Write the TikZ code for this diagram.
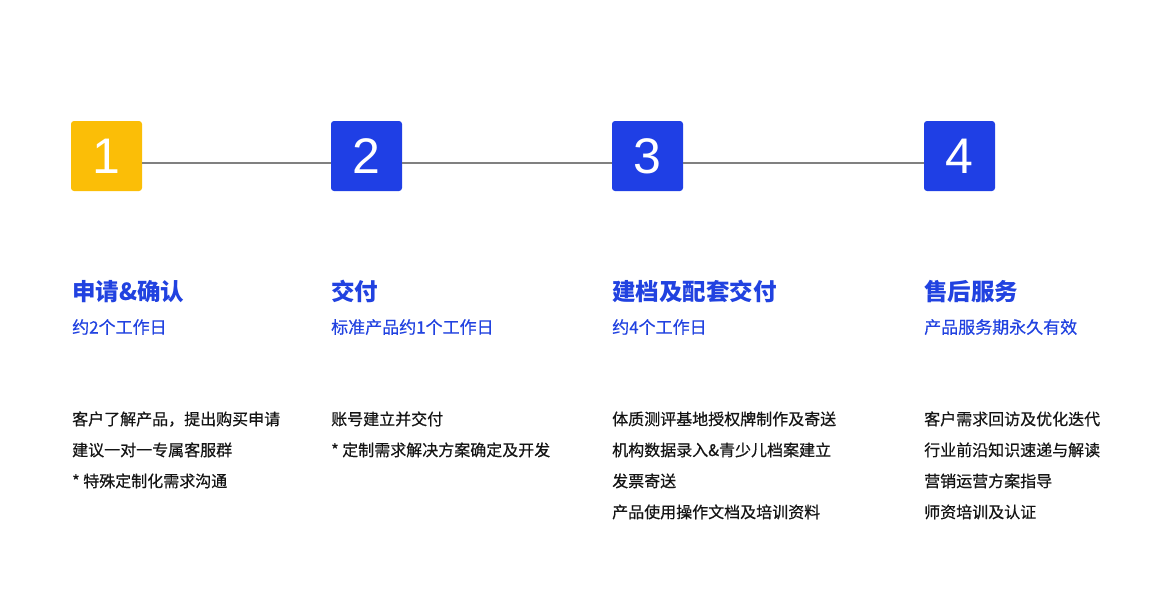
\documentclass[tikz,border=0pt]{standalone}
\usepackage{fontspec}
\setmainfont{Noto Sans CJK SC}
\newfontfamily\medfont{Noto Sans CJK SC}[FakeBold=0.5]
\newfontfamily\numfont{Liberation Sans}
\usetikzlibrary{positioning}
\definecolor{stepblue}{RGB}{31, 63, 229}
\definecolor{stepyellow}{RGB}{251, 190, 7}
\definecolor{textblue}{RGB}{33, 66, 224}
\definecolor{textdark}{RGB}{20, 20, 20}
\definecolor{linegray}{RGB}{128, 128, 128}

\tikzset{
  numbox/.style={fill=stepblue, rounded corners=3pt, minimum width=71pt,
                 minimum height=70pt, inner sep=0pt, text=white,
                 font=\numfont\fontsize{50}{50}\selectfont},
  timeline/.style={draw=linegray, line width=1.6pt},
  steptitle/.style={anchor=base west, inner sep=0pt, text=textblue,
                    font=\bfseries\fontsize{23.5}{28}\selectfont},
  stepsub/.style={anchor=base west, inner sep=0pt, text=textblue,
                  font=\medfont\fontsize{17}{20}\selectfont},
  stepitem/.style={anchor=base west, inner sep=0pt, text=textdark,
                   font=\medfont\fontsize{16}{19}\selectfont}
}

\begin{document}
\begin{tikzpicture}[x=1pt, y=-1pt]
    \useasboundingbox (0,0) rectangle (1170,600);

    % step boxes
    \node[numbox, fill=stepyellow] (b1) at (106.5,156) {1};
    \node[numbox] (b2) at (366.5,156) {2};
    \node[numbox] (b3) at (647.5,156) {3};
    \node[numbox] (b4) at (959.5,156) {4};

    \draw[timeline] ([yshift=-7pt]b1.east) -- ([yshift=-7pt]b2.west);
    \draw[timeline] ([yshift=-7pt]b2.east) -- ([yshift=-7pt]b3.west);
    \draw[timeline] ([yshift=-7pt]b3.east) -- ([yshift=-7pt]b4.west);

    % titles
    \node[steptitle] (t1) at (72,300) {申请\&确认};
    \node[steptitle] (t2) at (331,300) {交付};
    \node[steptitle] (t3) at (612,300) {建档及配套交付};
    \node[steptitle] (t4) at (924,300) {售后服务};

    \node[stepsub] (s1) at (72,333.5) {约2个工作日};
    \node[stepsub] (s2) at (331,333.5) {标准产品约1个工作日};
    \node[stepsub] (s3) at (612,333.5) {约4个工作日};
    \node[stepsub] (s4) at (924,333.5) {产品服务期永久有效};

    % task lists
    \foreach \t [count=\i] in {客户了解产品，提出购买申请, 建议一对一专属客服群, * 特殊定制化需求沟通}
        \node[stepitem] (a\i) at (72,{425+31*(\i-1)}) {\t};
    \foreach \t [count=\i] in {账号建立并交付, * 定制需求解决方案确定及开发}
        \node[stepitem] (d\i) at (331,{425+31*(\i-1)}) {\t};
    \foreach \t [count=\i] in {体质测评基地授权牌制作及寄送, 机构数据录入\&青少儿档案建立, 发票寄送, 产品使用操作文档及培训资料}
        \node[stepitem] (f\i) at (612,{425+31*(\i-1)}) {\t};
    \foreach \t [count=\i] in {客户需求回访及优化迭代, 行业前沿知识速递与解读, 营销运营方案指导, 师资培训及认证}
        \node[stepitem] (h\i) at (924,{425+31*(\i-1)}) {\t};
\end{tikzpicture}
\end{document}
